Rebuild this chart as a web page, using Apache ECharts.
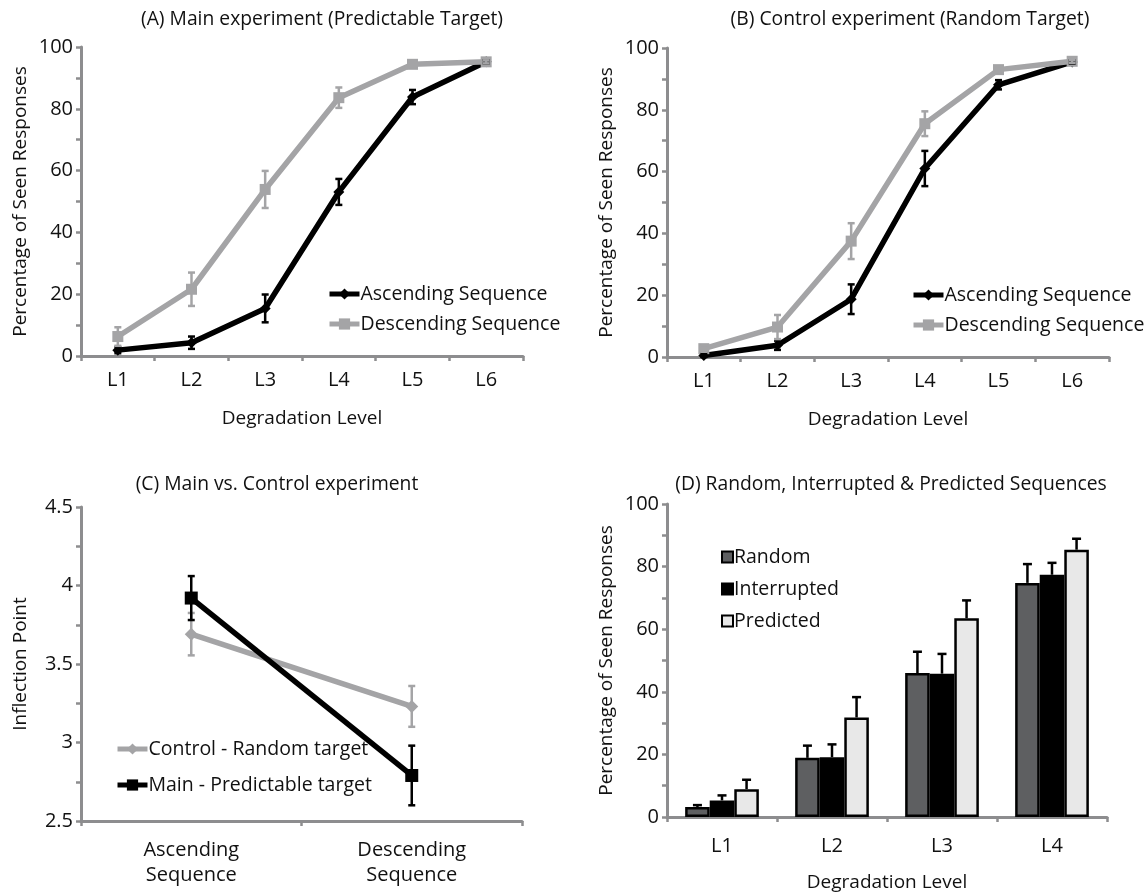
<!DOCTYPE html>
<html>
<head>
<meta charset="utf-8">
<script src="https://cdn.jsdelivr.net/npm/echarts@6/dist/echarts.min.js"></script>
<style>
  html, body { margin: 0; padding: 0; background: #fff; }
  #chart { width: 1144px; height: 895px; }
</style>
</head>
<body>
<div id="chart"></div>
<script>
// ---- Data ----
const levels6 = ['L1', 'L2', 'L3', 'L4', 'L5', 'L6'];
const levels4 = ['L1', 'L2', 'L3', 'L4'];
const sequences = ['Ascending\nSequence', 'Descending\nSequence'];

// (A) Main experiment: mean % seen and standard error
const mainAsc = [1.9, 4.3, 15.4, 53.1, 83.8, 95.2];
const mainAscErr = [1.0, 2.0, 4.5, 4.2, 2.3, 0.5];
const mainDesc = [6.3, 21.6, 53.9, 83.6, 94.4, 95.2];
const mainDescErr = [3.0, 5.4, 6.0, 3.3, 1.0, 0.5];

// (B) Control experiment
const ctrlAsc = [0.5, 3.8, 18.7, 61.0, 88.1, 95.5];
const ctrlAscErr = [0.5, 1.5, 4.8, 5.7, 1.5, 0.5];
const ctrlDesc = [2.7, 9.7, 37.5, 75.5, 93.0, 95.7];
const ctrlDescErr = [1.0, 3.9, 5.8, 4.0, 1.0, 0.5];

// (C) Inflection points
const inflControl = [3.69, 3.23];
const inflControlErr = [0.135, 0.13];
const inflMain = [3.92, 2.79];
const inflMainErr = [0.14, 0.19];

// (D) Random / Interrupted / Predicted
const randomVals = [3.2, 18.9, 46.0, 74.8];
const randomErr = [0.6, 3.9, 6.8, 6.0];
const interruptedVals = [5.3, 19.1, 45.8, 77.4];
const interruptedErr = [1.6, 4.1, 6.3, 3.8];
const predictedVals = [8.9, 31.8, 63.5, 85.4];
const predictedErr = [3.0, 6.5, 5.7, 3.5];

// ---- Styles ----
const FONT = 'Open Sans';
const AXIS_GREY = '#8d8d8f';
const LINE_GREY = '#a4a4a6';
const BLACK = '#000000';
const TEXT = '#111111';

const chart = echarts.init(document.getElementById('chart'));

function valueAxis(idx, min, max, interval, labelStep, name, gap, fmt) {
  return {
    gridIndex: idx, type: 'value', min: min, max: max, interval: interval,
    name: name, nameLocation: 'middle', nameGap: gap,
    nameTextStyle: { fontFamily: FONT, fontSize: 19, color: TEXT },
    axisLine: { show: true, lineStyle: { color: AXIS_GREY, width: 3 } },
    axisTick: { show: true, length: 5, lineStyle: { color: AXIS_GREY, width: 2.5 } },
    splitLine: { show: false },
    axisLabel: {
      fontFamily: FONT, fontSize: 20, color: TEXT, margin: 8,
      formatter: function (v) {
        const k = Math.round((v - min) / labelStep * 1000) / 1000;
        return Number.isInteger(k) ? (fmt ? fmt(v) : String(v)) : '';
      }
    }
  };
}

function catAxis(idx, data, name, gap, margin, lineHeight) {
  return {
    gridIndex: idx, type: 'category', data: data, boundaryGap: true,
    name: name, nameLocation: 'middle', nameGap: gap,
    nameTextStyle: { fontFamily: FONT, fontSize: 19, color: TEXT },
    axisLine: { show: true, lineStyle: { color: AXIS_GREY, width: 3 } },
    axisTick: { show: true, length: 5, lineStyle: { color: AXIS_GREY, width: 2.5 } },
    axisLabel: { fontFamily: FONT, fontSize: 20, color: TEXT, margin: margin, lineHeight: lineHeight }
  };
}

// Vertical error bar (both directions) drawn from [category, low, high]
function errorBarRender(color, cap, width) {
  return function (params, api) {
    const lo = api.coord([api.value(0), api.value(1)]);
    const hi = api.coord([api.value(0), api.value(2)]);
    const style = { stroke: color, lineWidth: width };
    return {
      type: 'group',
      children: [
        { type: 'line', shape: { x1: lo[0], y1: lo[1], x2: hi[0], y2: hi[1] }, style: style },
        { type: 'line', shape: { x1: lo[0] - cap, y1: lo[1], x2: lo[0] + cap, y2: lo[1] }, style: style },
        { type: 'line', shape: { x1: hi[0] - cap, y1: hi[1], x2: hi[0] + cap, y2: hi[1] }, style: style }
      ]
    };
  };
}

function errData(vals, errs) {
  return vals.map(function (v, i) { return [i, v - errs[i], v + errs[i]]; });
}

function errSeries(gridIdx, vals, errs, color, cap, width, z) {
  return {
    type: 'custom', xAxisIndex: gridIdx, yAxisIndex: gridIdx,
    renderItem: errorBarRender(color, cap, width),
    data: errData(vals, errs), z: z, silent: true
  };
}

function lineSeries(gridIdx, name, vals, color, symbol, size, z) {
  return {
    type: 'line', name: name, xAxisIndex: gridIdx, yAxisIndex: gridIdx,
    data: vals, symbol: symbol, symbolSize: size, z: z,
    lineStyle: { color: color, width: 5.5 },
    itemStyle: { color: color },
    emphasis: { disabled: true }, animation: false
  };
}

// Upward-only error bar placed over bar number `slot` of a 3-bar group
const GROUP_GAP = 0.33;
function barErrorRender(slot, cap, width) {
  return function (params, api) {
    const cat = api.value(0);
    const base = api.coord([cat, api.value(1)]);
    const top = api.coord([cat, api.value(2)]);
    const band = api.size([1, 0])[0];
    const barW = band * (1 - GROUP_GAP) / 3;
    const x = base[0] + (slot - 1) * barW;
    const style = { stroke: BLACK, lineWidth: width };
    return {
      type: 'group',
      children: [
        { type: 'line', shape: { x1: x, y1: base[1], x2: x, y2: top[1] }, style: style },
        { type: 'line', shape: { x1: x - cap, y1: top[1], x2: x + cap, y2: top[1] }, style: style }
      ]
    };
  };
}

function barSeries(name, vals, color) {
  return {
    type: 'bar', name: name, xAxisIndex: 3, yAxisIndex: 3, data: vals,
    barGap: '0%', barCategoryGap: (GROUP_GAP * 100) + '%',
    itemStyle: { color: color, borderColor: BLACK, borderWidth: 2.5 },
    emphasis: { disabled: true }, z: 2
  };
}

function barErrSeries(slot, vals, errs) {
  return {
    type: 'custom', xAxisIndex: 3, yAxisIndex: 3, z: 1, silent: true,
    renderItem: barErrorRender(slot, 4.5, 2.5),
    data: vals.map(function (v, i) { return [i, v, v + errs[i]]; })
  };
}

const titleStyle = { fontFamily: FONT, fontSize: 19.3, fontWeight: 'normal', color: TEXT };
const legendText = { fontFamily: FONT, fontSize: 19.5, color: TEXT, padding: [0, 0, 0, -4] };

function lineLegend(names, left, top, gap) {
  return {
    data: names, orient: 'vertical', left: left, top: top, padding: 0,
    itemGap: gap, itemWidth: 30, itemHeight: 14,
    lineStyle: { width: 5 },
    textStyle: legendText, selectedMode: false
  };
}

const option = {
  animation: false,
  backgroundColor: '#ffffff',
  title: [
    { text: '(A) Main experiment (Predictable Target)', left: 317, top: 5, textAlign: 'center', textStyle: titleStyle },
    { text: '(B) Control experiment (Random Target)', left: 905, top: 5, textAlign: 'center', textStyle: titleStyle },
    { text: '(C) Main vs. Control experiment', left: 272, top: 470, textAlign: 'center', textStyle: titleStyle },
    { text: '(D) Random, Interrupted & Predicted Sequences', left: 886, top: 470, textAlign: 'center', textStyle: titleStyle }
  ],
  grid: [
    { left: 81, top: 47, width: 442, height: 309 },
    { left: 667, top: 48, width: 442, height: 309 },
    { left: 81, top: 507, width: 441, height: 314 },
    { left: 667, top: 504, width: 440, height: 313 }
  ],
  xAxis: [
    catAxis(0, levels6, 'Degradation Level', 53, 14),
    catAxis(1, levels6, 'Degradation Level', 53, 14),
    catAxis(2, sequences, '', 0, 17, 25),
    catAxis(3, levels4, 'Degradation Level', 56, 19)
  ],
  yAxis: [
    valueAxis(0, 0, 100, 10, 20, 'Percentage of Seen Responses', 51),
    valueAxis(1, 0, 100, 10, 20, 'Percentage of Seen Responses', 51),
    valueAxis(2, 2.5, 4.5, 0.25, 0.5, 'Inflection Point', 51, function (v) { return String(v); }),
    valueAxis(3, 0, 100, 10, 20, 'Percentage of Seen Responses', 51)
  ],
  legend: [
    lineLegend(['Ascending Sequence', 'Descending Sequence'], 327, 284, 10),
    lineLegend(['Ascending Sequence', 'Descending Sequence'], 911, 285, 10),
    lineLegend(['Control - Random target', 'Main - Predictable target'], 115, 739, 16),
    {
      data: ['Random', 'Interrupted', 'Predicted'], orient: 'vertical', icon: 'rect',
      left: 721, top: 547, padding: 0, itemGap: 12, itemWidth: 11, itemHeight: 11,
      itemStyle: { borderColor: BLACK, borderWidth: 2 },
      textStyle: legendText, selectedMode: false
    }
  ],
  series: [
    // (A)
    lineSeries(0, 'Ascending Sequence', mainAsc, BLACK, 'diamond', 11, 3),
    lineSeries(0, 'Descending Sequence', mainDesc, LINE_GREY, 'rect', 11, 4),
    errSeries(0, mainAsc, mainAscErr, BLACK, 3.5, 2.5, 5),
    errSeries(0, mainDesc, mainDescErr, LINE_GREY, 3.5, 2.5, 5),
    // (B)
    lineSeries(1, 'Ascending Sequence', ctrlAsc, BLACK, 'diamond', 11, 3),
    lineSeries(1, 'Descending Sequence', ctrlDesc, LINE_GREY, 'rect', 11, 4),
    errSeries(1, ctrlAsc, ctrlAscErr, BLACK, 3.5, 2.5, 5),
    errSeries(1, ctrlDesc, ctrlDescErr, LINE_GREY, 3.5, 2.5, 5),
    // (C)
    lineSeries(2, 'Control - Random target', inflControl, LINE_GREY, 'diamond', 13, 3),
    lineSeries(2, 'Main - Predictable target', inflMain, BLACK, 'rect', 13, 4),
    errSeries(2, inflControl, inflControlErr, LINE_GREY, 3.5, 2.5, 3),
    errSeries(2, inflMain, inflMainErr, BLACK, 3.5, 2.5, 5),
    // (D)
    barErrSeries(0, randomVals, randomErr),
    barErrSeries(1, interruptedVals, interruptedErr),
    barErrSeries(2, predictedVals, predictedErr),
    barSeries('Random', randomVals, '#5e5f61'),
    barSeries('Interrupted', interruptedVals, '#000000'),
    barSeries('Predicted', predictedVals, '#e8e8e8')
  ]
};

chart.setOption(option);
</script>
</body>
</html>
